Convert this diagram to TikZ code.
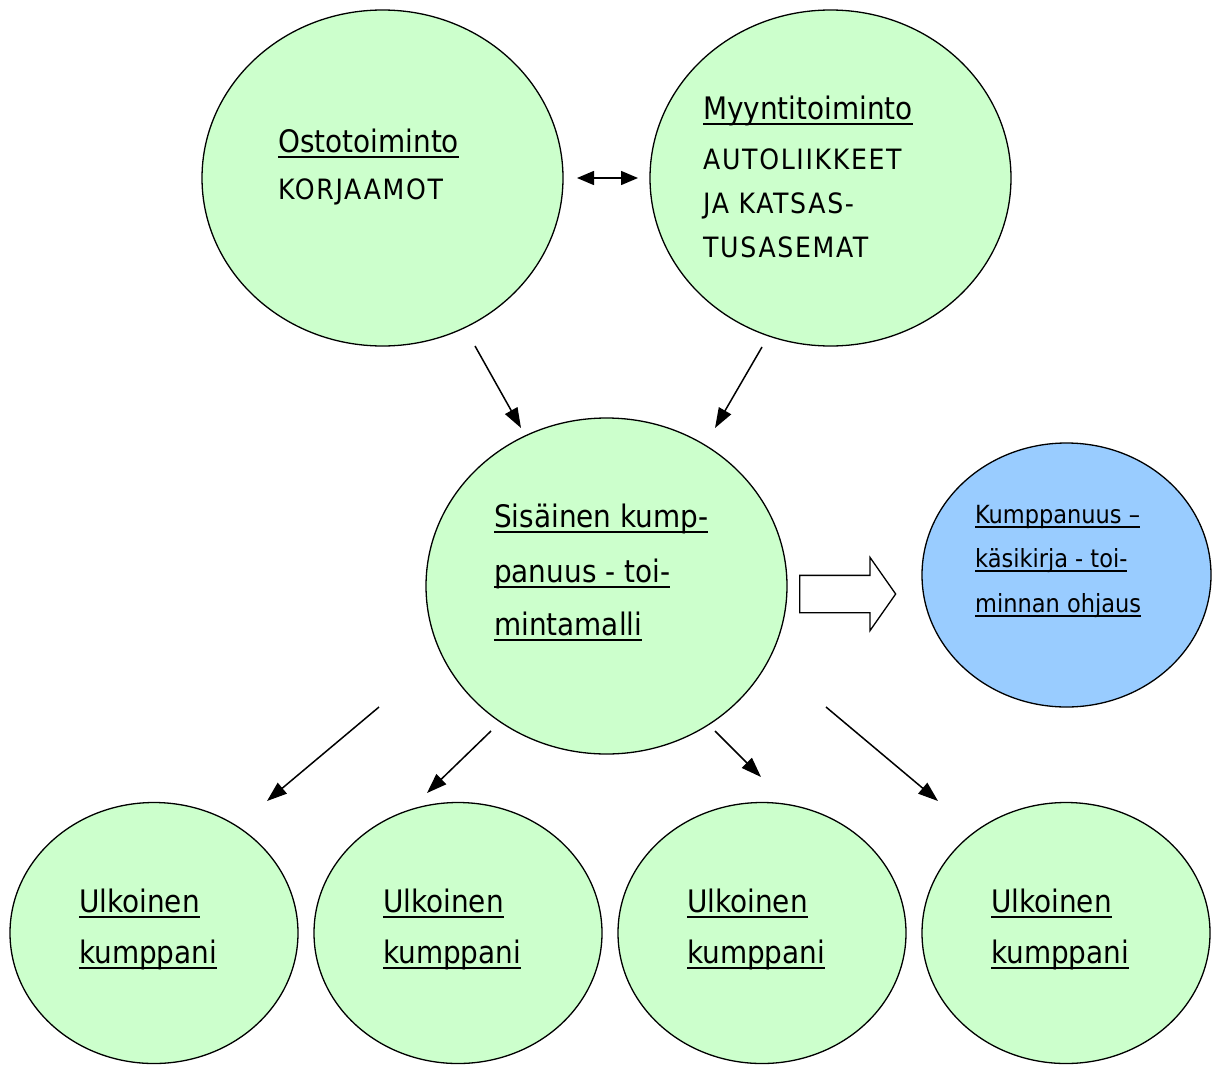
\documentclass[tikz,border=0pt]{standalone}
\usepackage{fontspec}
\setmainfont{DejaVu Sans Condensed}
\usetikzlibrary{shapes.geometric,shapes.arrows,arrows.meta}

\definecolor{bubblegreen}{RGB}{204,255,204}
\definecolor{bubbleblue}{RGB}{153,204,255}
\newcommand{\ultext}[1]{\setbox0=\hbox{#1}\rlap{\rule[-0.2em]{\wd0}{0.08em}}\box0}

\tikzset{
  bubble/.style={ellipse,draw,line width=1.3pt,fill=bubblegreen,inner sep=0pt},
  bigtxt/.style={anchor=base west,inner sep=0pt,font=\fontsize{31pt}{31pt}\selectfont},
  captxt/.style={anchor=base west,inner sep=0pt,font=\fontsize{28pt}{28pt}\selectfont\addfontfeature{LetterSpace=6}},
  smalltxt/.style={anchor=base west,inner sep=0pt,font=\fontsize{25pt}{25pt}\selectfont},
  link/.style={line width=1.5pt,-{Triangle[length=20pt,width=14pt]}},
}

\begin{document}
\begin{tikzpicture}[x=1pt,y=-1pt]
\useasboundingbox (0,0) rectangle (1214,1065);
% circles
\node[bubble,minimum width=361pt,minimum height=336pt] (osto) at (382.5,178) {};
\node[bubble,minimum width=361pt,minimum height=336pt] (myynti) at (830.5,178) {};
\node[bubble,minimum width=361pt,minimum height=336pt] (sis) at (606.5,586) {};
\node[bubble,fill=bubbleblue,minimum width=289pt,minimum height=264pt] (kasikirja) at (1066.5,575) {};
\node[bubble,minimum width=288pt,minimum height=261pt] (ulk1) at (154,933) {};
\node[bubble,minimum width=288pt,minimum height=261pt] (ulk2) at (458,933) {};
\node[bubble,minimum width=288pt,minimum height=261pt] (ulk3) at (762,933) {};
\node[bubble,minimum width=288pt,minimum height=261pt] (ulk4) at (1066,933) {};
% texts
\node[bigtxt] (osto1) at (278,152) {\ultext{Ostotoiminto}};
\node[captxt] (osto2) at (278,199) {KORJAAMOT};
\node[bigtxt] (myy1) at (703,119) {\ultext{Myyntitoiminto}};
\node[captxt] (myy2) at (703,169) {AUTOLIIKKEET};
\node[captxt] (myy3) at (703,213) {JA KATSAS-};
\node[captxt] (myy4) at (703,257) {TUSASEMAT};
\node[bigtxt] (sis1) at (494,527) {\ultext{Sisäinen kump-}};
\node[bigtxt] (sis2) at (494,582) {\ultext{panuus - toi-}};
\node[bigtxt] (sis3) at (494,635) {\ultext{mintamalli}};
\node[smalltxt] (kas1) at (975,523) {\ultext{Kumppanuus –}};
\node[smalltxt] (kas2) at (975,567) {\ultext{käsikirja - toi-}};
\node[smalltxt] (kas3) at (975,612) {\ultext{minnan ohjaus}};
\node[bigtxt] (u1a) at (79,912) {\ultext{Ulkoinen}};
\node[bigtxt] (u1b) at (79,963) {\ultext{kumppani}};
\node[bigtxt] (u2a) at (383,912) {\ultext{Ulkoinen}};
\node[bigtxt] (u2b) at (383,963) {\ultext{kumppani}};
\node[bigtxt] (u3a) at (687,912) {\ultext{Ulkoinen}};
\node[bigtxt] (u3b) at (687,963) {\ultext{kumppani}};
\node[bigtxt] (u4a) at (991,912) {\ultext{Ulkoinen}};
\node[bigtxt] (u4b) at (991,963) {\ultext{kumppani}};
% arrow ends
\coordinate (dl) at (577,178);
\coordinate (dr) at (638,178);
\coordinate (os) at (475,346);
\coordinate (oe) at (521,428);
\coordinate (ms) at (762,347);
\coordinate (me) at (715,428);
\coordinate (s1) at (379,707);
\coordinate (e1) at (267,801);
\coordinate (s2) at (491,731);
\coordinate (e2) at (427,793);
\coordinate (s3) at (715,731);
\coordinate (e3) at (761,777);
\coordinate (s4) at (826,707);
\coordinate (e4) at (938,801);
% arrows
\draw[line width=1.5pt,{Triangle[length=17pt,width=14pt]}-{Triangle[length=17pt,width=14pt]}] (dl) -- (dr);
\draw[link] (os) -- (oe);
\draw[link] (ms) -- (me);
\draw[link] (s1) -- (e1);
\draw[link] (s2) -- (e2);
\draw[link] (s3) -- (e3);
\draw[link] (s4) -- (e4);
\node[single arrow,draw,line width=1.3pt,fill=white,anchor=tail,minimum height=96pt,
      inner xsep=0pt,inner ysep=18pt,single arrow head extend=18pt,single arrow tip angle=110] (blockarrow) at (799,594) {};
\end{tikzpicture}
\end{document}
